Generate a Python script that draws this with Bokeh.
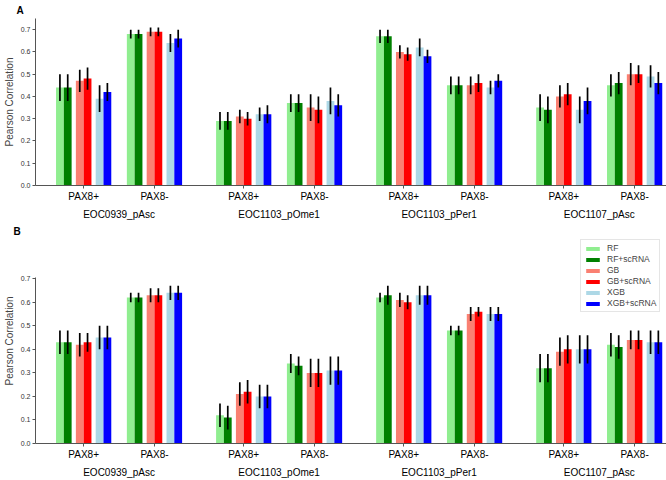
import numpy as np
from bokeh.plotting import figure
from bokeh.models import (ColumnDataSource, Range1d, FixedTicker, LinearAxis, Title,
                          Legend, LegendItem, NumeralTickFormatter)
from bokeh.layouts import column
from bokeh.embed import file_html
from bokeh.resources import INLINE

# ---------------- data ----------------
datasets = ["EOC0939_pAsc", "EOC1103_pOme1", "EOC1103_pPer1", "EOC1107_pAsc"]
subtypes = ["PAX8+", "PAX8-"]
models = ["RF", "RF+scRNA", "GB", "GB+scRNA", "XGB", "XGB+scRNA"]
colors = ["#90ee90", "#008000", "#fa8072", "#ff0000", "#add8e6", "#0000ff"]
yticks = [0.0, 0.1, 0.2, 0.3, 0.4, 0.5, 0.6, 0.7]

# order: (EOC0939 +,-), (pOme1 +,-), (pPer1 +,-), (EOC1107 +,-)
a_RF        = [0.44, 0.68, 0.29, 0.37, 0.67, 0.45, 0.35, 0.45]
a_RF_sc     = [0.44, 0.68, 0.29, 0.37, 0.67, 0.45, 0.34, 0.46]
a_GB        = [0.47, 0.69, 0.31, 0.35, 0.60, 0.45, 0.40, 0.50]
a_GB_sc     = [0.48, 0.69, 0.30, 0.34, 0.59, 0.46, 0.41, 0.50]
a_XGB       = [0.39, 0.64, 0.32, 0.38, 0.62, 0.44, 0.34, 0.49]
a_XGB_sc    = [0.42, 0.66, 0.32, 0.36, 0.58, 0.47, 0.38, 0.46]
a_RF_err     = [0.06, 0.02, 0.04, 0.04, 0.03, 0.04, 0.06, 0.05]
a_RF_sc_err  = [0.06, 0.02, 0.04, 0.04, 0.03, 0.04, 0.06, 0.05]
a_GB_err     = [0.05, 0.02, 0.03, 0.06, 0.03, 0.04, 0.05, 0.05]
a_GB_sc_err  = [0.05, 0.02, 0.03, 0.06, 0.03, 0.04, 0.05, 0.04]
a_XGB_err    = [0.06, 0.04, 0.03, 0.06, 0.04, 0.03, 0.06, 0.05]
a_XGB_sc_err = [0.04, 0.04, 0.04, 0.05, 0.03, 0.03, 0.06, 0.05]

b_RF        = [0.43, 0.62, 0.12, 0.34, 0.62, 0.48, 0.32, 0.42]
b_RF_sc     = [0.43, 0.62, 0.11, 0.33, 0.63, 0.48, 0.32, 0.41]
b_GB        = [0.42, 0.63, 0.21, 0.30, 0.61, 0.55, 0.39, 0.44]
b_GB_sc     = [0.43, 0.63, 0.22, 0.30, 0.60, 0.56, 0.40, 0.44]
b_XGB       = [0.45, 0.64, 0.20, 0.31, 0.63, 0.55, 0.40, 0.43]
b_XGB_sc    = [0.45, 0.64, 0.20, 0.31, 0.63, 0.55, 0.40, 0.43]
b_RF_err     = [0.05, 0.02, 0.05, 0.04, 0.02, 0.02, 0.06, 0.05]
b_RF_sc_err  = [0.05, 0.02, 0.05, 0.04, 0.04, 0.02, 0.06, 0.05]
b_GB_err     = [0.05, 0.03, 0.05, 0.06, 0.03, 0.03, 0.06, 0.04]
b_GB_sc_err  = [0.04, 0.03, 0.05, 0.06, 0.03, 0.02, 0.06, 0.04]
b_XGB_err    = [0.05, 0.03, 0.05, 0.06, 0.04, 0.03, 0.06, 0.05]
b_XGB_sc_err = [0.05, 0.03, 0.05, 0.06, 0.04, 0.03, 0.06, 0.05]

vals_a = [a_RF, a_RF_sc, a_GB, a_GB_sc, a_XGB, a_XGB_sc]
errs_a = [a_RF_err, a_RF_sc_err, a_GB_err, a_GB_sc_err, a_XGB_err, a_XGB_sc_err]
vals_b = [b_RF, b_RF_sc, b_GB, b_GB_sc, b_XGB, b_XGB_sc]
errs_b = [b_RF_err, b_RF_sc_err, b_GB_err, b_GB_sc_err, b_XGB_err, b_XGB_sc_err]

# ---------------- layout ----------------
FONT = "Liberation Sans"
SUB_STEP = 100
DS_STEP = 226
PAIR_STEP = 28
BAR_W = 11
W = 666

centers = [i * DS_STEP + j * SUB_STEP for i in range(len(datasets)) for j in range(len(subtypes))]
center_labels = [s for _ in datasets for s in subtypes]
ds_centers = [i * DS_STEP + SUB_STEP // 2 for i in range(len(datasets))]


def letter_title(text, offset, standoff):
    return Title(text=text, align="left", offset=offset, standoff=standoff,
                 text_font=FONT, text_font_size="10px", text_font_style="bold",
                 text_color="black")


def make_panel(vals, errs, height, top, bottom, yend, axis_top):
    p = figure(width=W, height=height, output_backend="svg", toolbar_location=None,
               x_range=Range1d(-68, 823), y_range=Range1d(0, yend),
               min_border_left=33, min_border_right=0,
               min_border_top=top, min_border_bottom=bottom)
    p.outline_line_color = None
    p.grid.visible = False

    rends = []
    for k, m in enumerate(models):
        off = (k // 2 - 1) * PAIR_STEP + (k % 2 - 0.5) * BAR_W
        v = vals[k]
        e = errs[k]
        src = ColumnDataSource(dict(
            x=[c + off for c in centers], top=v,
            lo=[a - b for a, b in zip(v, e)], hi=[a + b for a, b in zip(v, e)]))
        r = p.vbar(x="x", top="top", width=BAR_W, fill_color=colors[k],
                   line_color=None, source=src)
        p.segment(x0="x", x1="x", y0="lo", y1="hi", line_color="black",
                  line_width=1.7, source=src)
        rends.append(r)

    ya = p.yaxis[0]
    ya.ticker = FixedTicker(ticks=yticks)
    ya.formatter = NumeralTickFormatter(format="0.0")
    ya.bounds = (0, axis_top)
    ya.axis_label = "Pearson Correlation"
    ya.axis_label_text_font = FONT
    ya.axis_label_text_font_size = "10px"
    ya.axis_label_text_font_style = "normal"
    ya.axis_label_standoff = 3
    ya.major_label_text_font = FONT
    ya.major_label_text_font_size = "7px"
    ya.major_label_text_color = "#333333"
    ya.major_label_standoff = 2
    ya.axis_line_color = "#555555"
    ya.major_tick_line_color = "#555555"
    ya.major_tick_in = 0
    ya.major_tick_out = 3
    ya.minor_tick_out = 0
    ya.minor_tick_line_color = None

    xa = p.xaxis[0]
    xa.ticker = FixedTicker(ticks=centers)
    xa.major_label_overrides = {c: s for c, s in zip(centers, center_labels)}
    xa.major_label_text_font = FONT
    xa.major_label_text_font_size = "10px"
    xa.major_label_text_color = "black"
    xa.major_label_standoff = 2
    xa.axis_line_color = "#555555"
    xa.major_tick_line_color = "#555555"
    xa.major_tick_in = 0
    xa.major_tick_out = 3
    xa.minor_tick_line_color = None

    xa2 = LinearAxis(ticker=FixedTicker(ticks=ds_centers),
                     major_label_overrides={c: s for c, s in zip(ds_centers, datasets)},
                     axis_line_color=None, major_tick_line_color=None,
                     minor_tick_line_color=None, major_tick_out=0, major_tick_in=0,
                     major_label_standoff=4, major_label_text_font=FONT,
                     major_label_text_font_size="10px", major_label_text_color="black")
    p.add_layout(xa2, "below")
    return p, rends


# Panel A (its lower border also carries the "B" panel letter)
pA, _ = make_panel(vals_a, errs_a, 238, 17, 53, 0.75, 0.75)
pA.add_layout(letter_title("A", -19, 5), "above")
pA.add_layout(letter_title("B", -22, 3), "below")

# Panel B (frame reaches the top so the legend can sit above the 0.7 line)
pB, rendsB = make_panel(vals_b, errs_b, 242, 0, 37, 0.871, 0.705)
leg = Legend(items=[LegendItem(label=m, renderers=[r]) for m, r in zip(models, rendsB)],
             location=(545, 131), orientation="vertical")
leg.label_text_font = FONT
leg.label_text_font_size = "8.5px"
leg.glyph_width = 17
leg.glyph_height = 5
leg.label_height = 10
leg.label_standoff = 6
leg.spacing = 1
leg.padding = 3
leg.margin = 0
leg.border_line_color = "#cccccc"
leg.background_fill_alpha = 0.85
pB.add_layout(leg)

layout = column(pA, pB, spacing=0)
open("out.html", "w").write(file_html(layout, INLINE))
